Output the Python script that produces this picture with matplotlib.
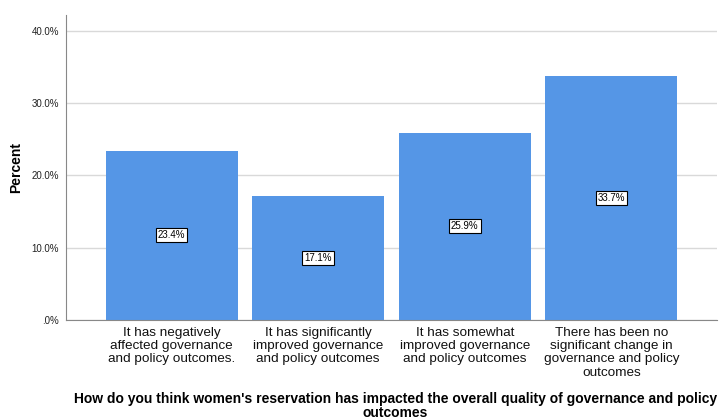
import matplotlib
matplotlib.use("Agg")
import matplotlib.pyplot as plt

# Data
categories = [
    "It has negatively\naffected governance\nand policy outcomes.",
    "It has significantly\nimproved governance\nand policy outcomes",
    "It has somewhat\nimproved governance\nand policy outcomes",
    "There has been no\nsignificant change in\ngovernance and policy\noutcomes",
]
percents = [23.4, 17.1, 25.9, 33.7]
y_ticks = [0, 10, 20, 30, 40]
y_tick_labels = [".0%", "10.0%", "20.0%", "30.0%", "40.0%"]

fig = plt.figure(figsize=(7.19, 4.19), dpi=100)
ax = fig.add_axes([0.0918, 0.2363, 0.9054, 0.7279])

x = list(range(len(categories)))
ax.bar(x, percents, width=0.9, color="#5596e6", zorder=2)

# value labels in white boxes at mid height
for xi, p in zip(x, percents):
    ax.text(xi, p / 2, f"{p:.1f}%", ha="center", va="center", fontsize=7,
            family="Liberation Sans", zorder=3,
            bbox=dict(boxstyle="square,pad=0.2", fc="white", ec="black", lw=0.8))

ax.set_xlim(-0.72, 3.72)
ax.set_ylim(0, 42.2)
ax.set_yticks(y_ticks)
ax.set_yticklabels(y_tick_labels, fontsize=7, family="Liberation Sans", color="#222222")
ax.tick_params(axis="y", length=0, pad=5)
ax.yaxis.grid(True, color="#d9d9d9", lw=1, zorder=0)
ax.set_axisbelow(True)

ax.set_xticks(x)
ax.set_xticklabels(categories, fontsize=9.7, family="Liberation Sans", linespacing=1.14,
                   color="#111111")
ax.tick_params(axis="x", length=0, pad=5)

for side in ["top", "right"]:
    ax.spines[side].set_visible(False)
ax.spines["left"].set_color("#888888")
ax.spines["bottom"].set_color("#888888")

ax.set_ylabel("Percent", fontsize=10, fontweight="bold", family="Liberation Sans", labelpad=6)
fig.text(0.55, 0.031, "How do you think women's reservation has impacted the overall quality of governance and policy\noutcomes",
         ha="center", va="center", fontsize=10, fontweight="bold", family="Liberation Sans", linespacing=1.0)

fig.savefig("out.png", dpi=100)
